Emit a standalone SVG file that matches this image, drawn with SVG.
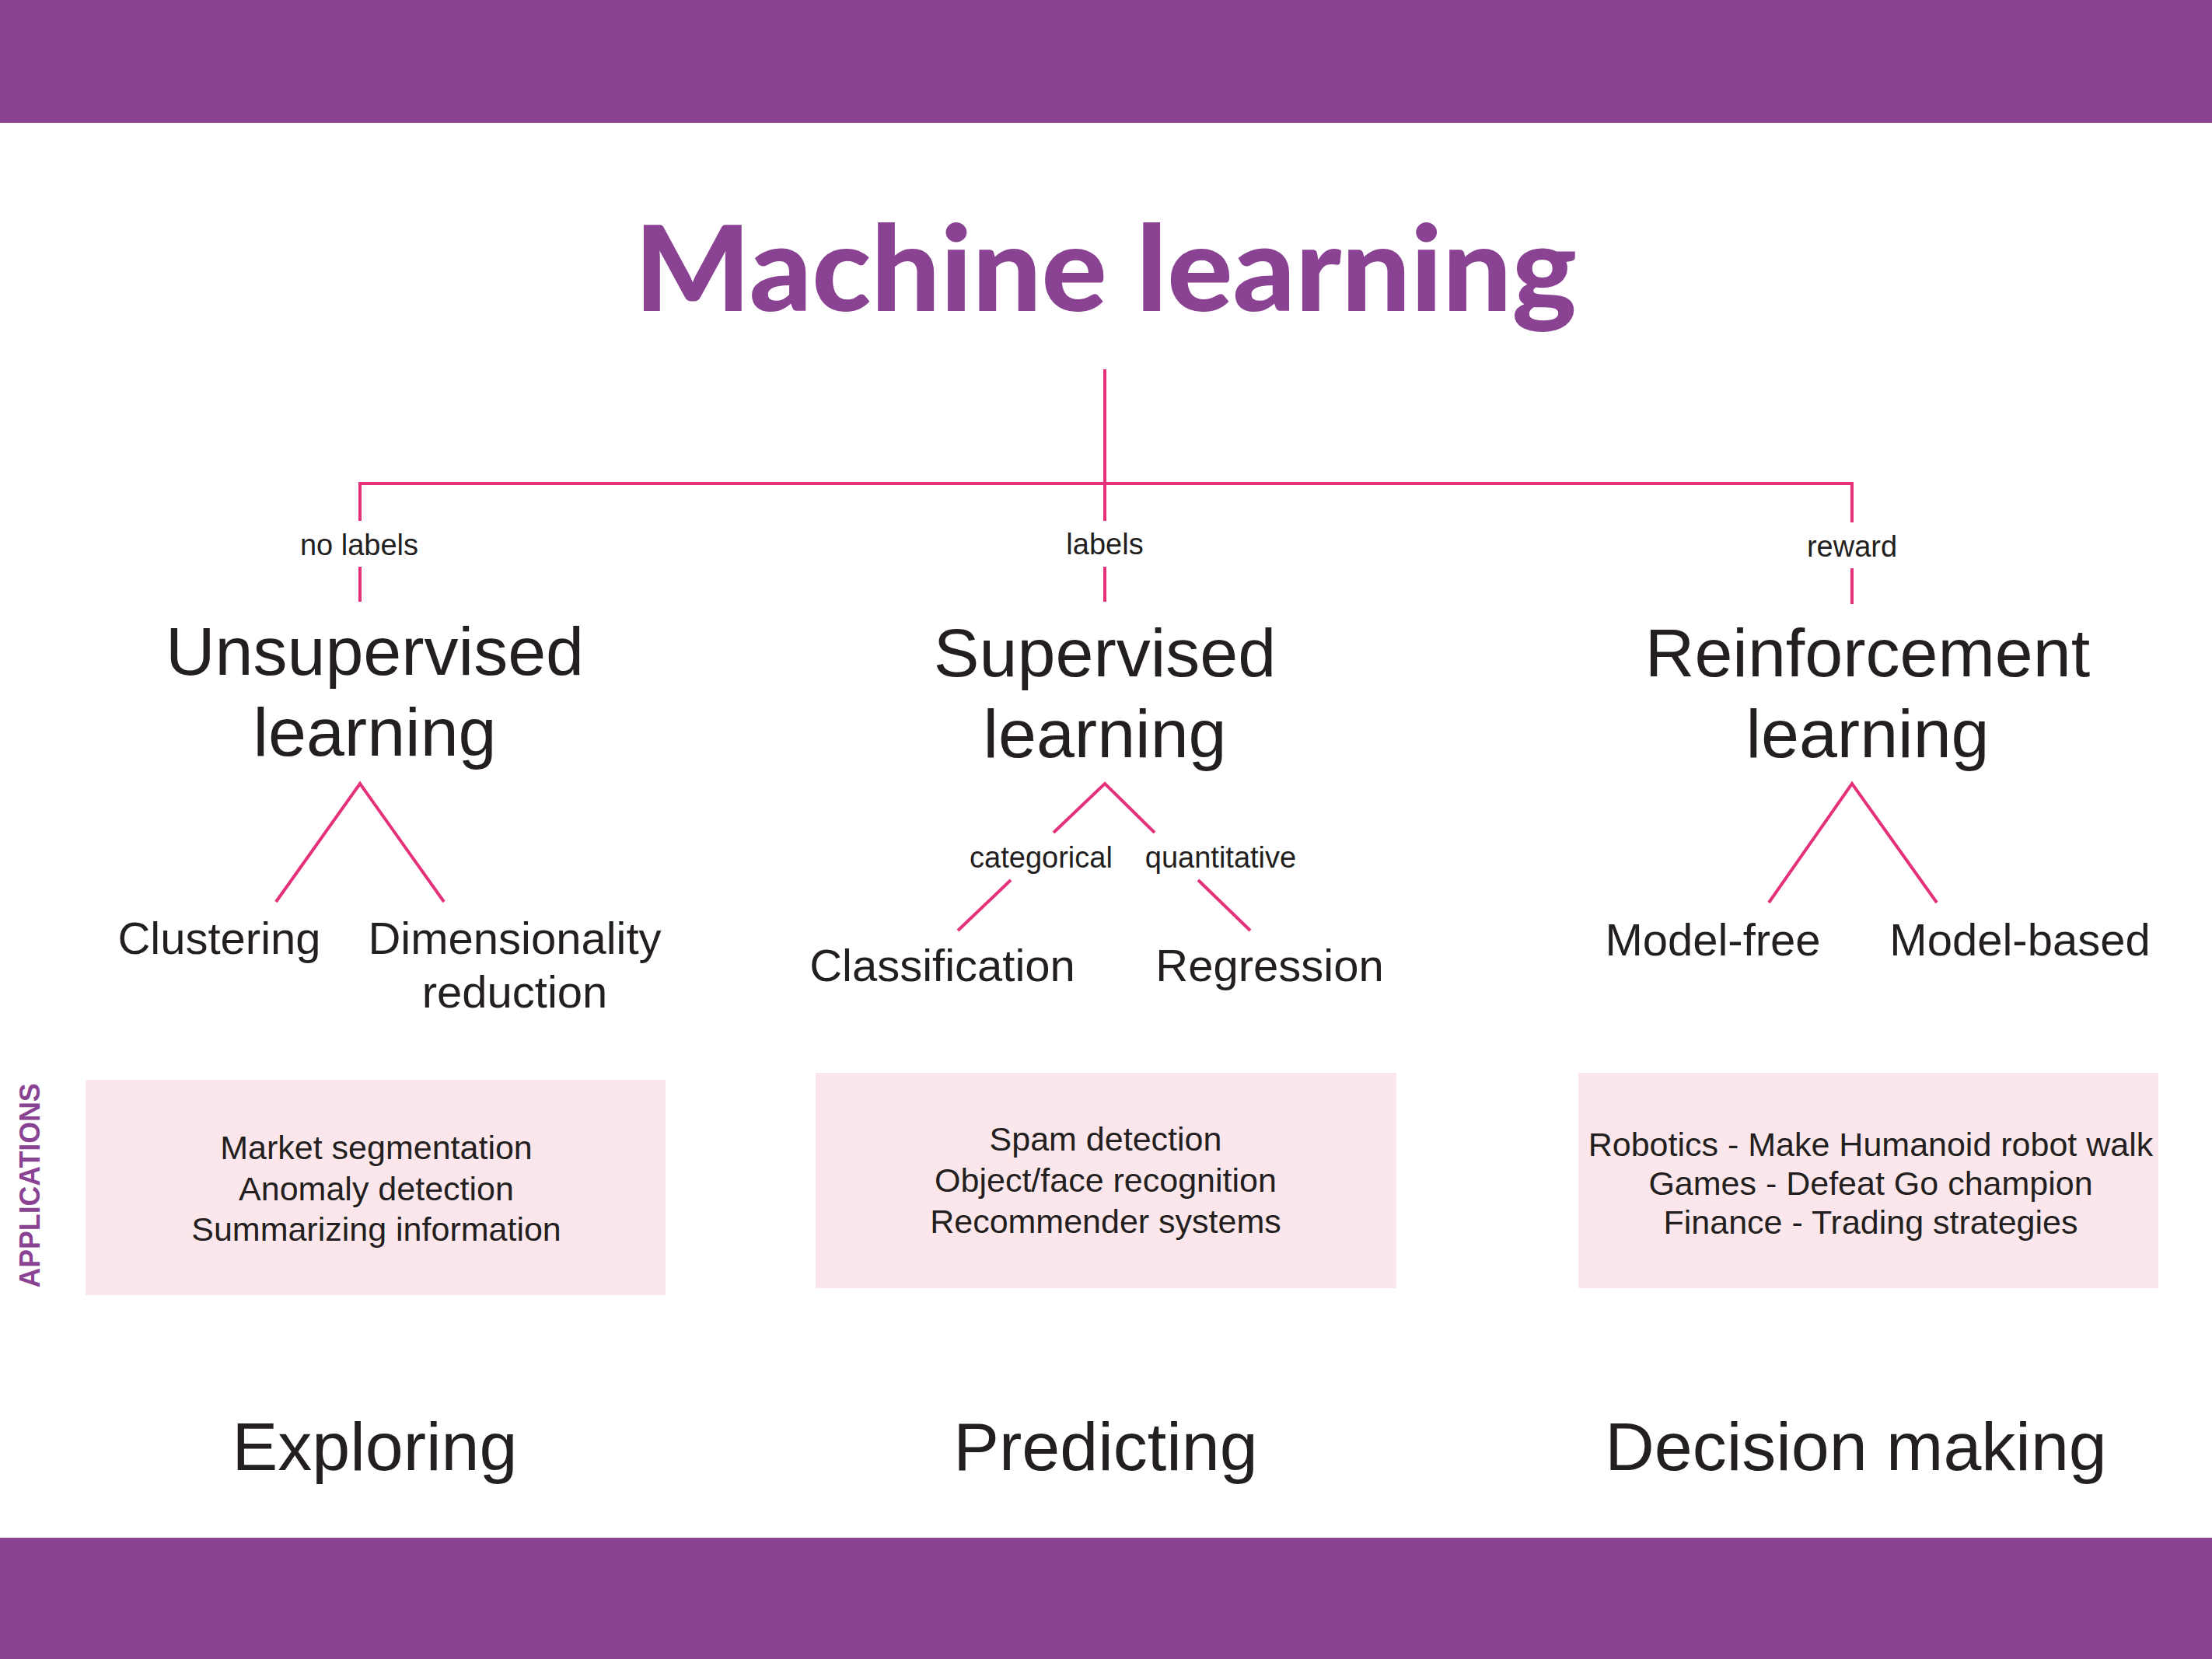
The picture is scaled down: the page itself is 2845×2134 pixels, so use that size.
<svg xmlns="http://www.w3.org/2000/svg" width="2845" height="2134" viewBox="0 0 2845 2134">
<style>
.bar{fill:#8a4293}
.ln{stroke:#e5317a;stroke-width:4;fill:none;stroke-linecap:butt}
.t{font-family:"Liberation Sans",Arial,sans-serif;fill:#231f20;text-anchor:middle}
.big{font-size:88px}
.sub{font-size:58px}
.lbl{font-size:38px}
.app{font-size:43px}
.box{fill:#fbe7eb}
.title{font-family:Lato,"DejaVu Sans",sans-serif;font-weight:900;font-size:152px;fill:#8a4293;text-anchor:middle}
.side{font-family:"Liberation Sans",Arial,sans-serif;font-weight:bold;font-size:37px;fill:#8a4293;text-anchor:middle}
</style>
<rect width="2845" height="2134" fill="#ffffff"/>
<rect class="bar" x="0" y="0" width="2845" height="158"/>
<rect class="bar" x="0" y="1978" width="2845" height="156"/>

<g id="title"><text class="title" x="1422" y="400" textLength="1212" lengthAdjust="spacingAndGlyphs">Machine learning</text></g>

<g id="connectors">
<path class="ln" d="M1421 475 V670"/>
<path class="ln" d="M463 670 V622 H2382 V672"/>
<path class="ln" d="M463 729 V774"/>
<path class="ln" d="M1421 729 V774"/>
<path class="ln" d="M2382 731 V777"/>
<path class="ln" d="M355 1160 L463 1008 L571 1160"/>
<path class="ln" d="M1355 1071 L1421 1008 L1485 1071"/>
<path class="ln" d="M1300 1132 L1232 1197"/>
<path class="ln" d="M1541 1132 L1608 1197"/>
<path class="ln" d="M2275 1161 L2382 1008 L2491 1161"/>
<text class="t lbl" x="462" y="714">no labels</text>
<text class="t lbl" x="1421" y="713">labels</text>
<text class="t lbl" x="2382" y="716">reward</text>
<text class="t lbl" x="1339" y="1116">categorical</text>
<text class="t lbl" x="1570" y="1116">quantitative</text>
</g>

<g id="unsupervised">
<text class="t big" x="482" y="868">Unsupervised</text>
<text class="t big" x="482" y="972">learning</text>
</g>
<g id="supervised">
<text class="t big" x="1421" y="870">Supervised</text>
<text class="t big" x="1421" y="974">learning</text>
</g>
<g id="reinforcement">
<text class="t big" x="2402" y="870">Reinforcement</text>
<text class="t big" x="2402" y="974">learning</text>
</g>

<g id="clustering"><text class="t sub" x="282" y="1227">Clustering</text></g>
<g id="dimensionality"><text class="t sub" x="662" y="1227">Dimensionality</text><text class="t sub" x="662" y="1296">reduction</text></g>
<g id="classification"><text class="t sub" x="1212" y="1262">Classification</text></g>
<g id="regression"><text class="t sub" x="1633" y="1262">Regression</text></g>
<g id="modelfree"><text class="t sub" x="2203" y="1229">Model-free</text></g>
<g id="modelbased"><text class="t sub" x="2598" y="1229">Model-based</text></g>

<g id="applications-label"><text class="side" transform="translate(51 1525) rotate(-90)" textLength="263" lengthAdjust="spacingAndGlyphs">APPLICATIONS</text></g>

<g id="app-unsupervised">
<rect class="box" x="110" y="1389" width="746" height="277"/>
<text class="t app" x="484" y="1491">Market segmentation</text>
<text class="t app" x="484" y="1544">Anomaly detection</text>
<text class="t app" x="484" y="1596">Summarizing information</text>
</g>
<g id="app-supervised">
<rect class="box" x="1049" y="1380" width="747" height="277"/>
<text class="t app" x="1422" y="1480">Spam detection</text>
<text class="t app" x="1422" y="1533">Object/face recognition</text>
<text class="t app" x="1422" y="1586">Recommender systems</text>
</g>
<g id="app-reinforcement">
<rect class="box" x="2030" y="1380" width="746" height="277"/>
<text class="t app" x="2406" y="1487">Robotics - Make Humanoid robot walk</text>
<text class="t app" x="2406" y="1537">Games - Defeat Go champion</text>
<text class="t app" x="2406" y="1587">Finance - Trading strategies</text>
</g>

<g id="exploring"><text class="t big" x="482" y="1891">Exploring</text></g>
<g id="predicting"><text class="t big" x="1422" y="1891">Predicting</text></g>
<g id="decision"><text class="t big" x="2387" y="1891">Decision making</text></g>
</svg>
